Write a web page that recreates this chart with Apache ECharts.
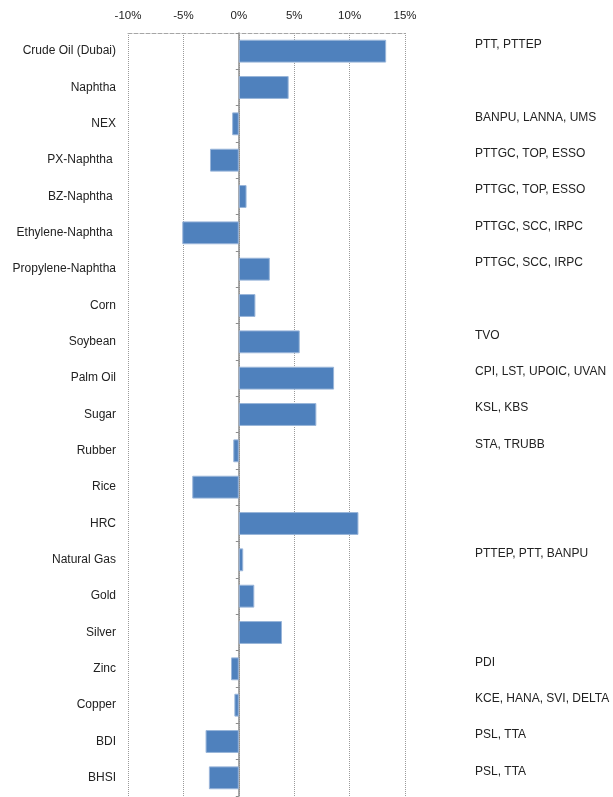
<!DOCTYPE html>
<html>
<head>
<meta charset="utf-8">
<script src="https://cdn.jsdelivr.net/npm/echarts@6/dist/echarts.min.js"></script>
<style>
  html, body { margin: 0; padding: 0; background: #fff; }
  #chart { width: 613px; height: 797px; }
</style>
</head>
<body>
<div id="chart"></div>
<script>
// commodities (top to bottom)
var categories = ['Crude Oil (Dubai)', 'Naphtha', 'NEX', 'PX-Naphtha ', 'BZ-Naphtha ', 'Ethylene-Naphtha ',
  'Propylene-Naphtha', 'Corn', 'Soybean', 'Palm Oil', 'Sugar', 'Rubber', 'Rice', 'HRC', 'Natural Gas',
  'Gold', 'Silver', 'Zinc', 'Copper', 'BDI', 'BHSI']
// % change
var changes = [13.3, 4.5, -0.6, -2.6, 0.7, -5.1, 2.8, 1.5, 5.5, 8.6, 7.0, -0.5, -4.2, 10.8, 0.4, 1.4, 3.9, -0.7, -0.4, -3.0, -2.7]
// related stocks, right side
var stocks = ['PTT, PTTEP', '', 'BANPU, LANNA, UMS', 'PTTGC, TOP, ESSO', 'PTTGC, TOP, ESSO', 'PTTGC, SCC, IRPC',
  'PTTGC, SCC, IRPC', '', 'TVO', 'CPI, LST, UPOIC, UVAN', 'KSL, KBS', 'STA, TRUBB', '', '', 'PTTEP, PTT, BANPU',
  '', '', 'PDI', 'KCE, HANA, SVI, DELTA', 'PSL, TTA', 'PSL, TTA']
var xMin = -10, xMax = 15, xStep = 5

var font = 'Liberation Sans, Arial, sans-serif'
var myChart = echarts.init(document.getElementById('chart'))
myChart.setOption({
  animation: false,
  grid: { left: 128, right: 208, top: 33, bottom: 1, outerBoundsMode: 'none' },
  xAxis: {
    type: 'value',
    position: 'top',
    min: xMin,
    max: xMax,
    interval: xStep,
    axisLine: { show: true, onZero: false, lineStyle: { color: '#a6a6a6', type: 'dashed', width: 1 } },
    axisTick: { show: false },
    axisLabel: { formatter: '{value}%', color: '#222', fontFamily: font, fontSize: 11.5, margin: 11 },
    splitLine: { show: true, lineStyle: { color: '#9a9a9a', type: 'dotted', width: 1 } }
  },
  yAxis: [
    {
      // commodity names
      type: 'category',
      data: categories,
      inverse: true,
      position: 'left',
      axisLine: { show: false, onZero: false },
      axisTick: { show: false },
      axisLabel: { color: '#222', fontFamily: font, fontSize: 12, margin: 12, interval: 0 }
    },
    {
      // zero line with ticks
      type: 'category',
      data: categories,
      inverse: true,
      position: 'left',
      axisLine: { show: true, onZero: true, lineStyle: { color: '#8c8c8c', width: 1.5 } },
      axisTick: { show: true, length: 3, lineStyle: { color: '#8c8c8c' } },
      axisLabel: { show: false }
    },
    {
      // stock names
      type: 'category',
      data: stocks,
      inverse: true,
      position: 'right',
      axisLine: { show: false, onZero: false },
      axisTick: { show: false },
      axisLabel: { color: '#222', fontFamily: font, fontSize: 12, margin: 70, interval: 0,
        align: 'left', verticalAlign: 'bottom', lineHeight: 13 }
    }
  ],
  series: [{
    type: 'bar',
    yAxisIndex: 0,
    data: changes,
    barCategoryGap: '37%',
    itemStyle: { color: '#4f81bd', borderColor: '#9ab6da', borderWidth: 1 },
    z: 1
  }]
})
</script>
</body>
</html>
